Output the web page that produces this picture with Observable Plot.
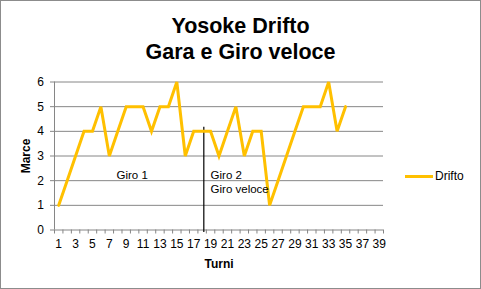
<!DOCTYPE html>
<html>
<head>
<meta charset="utf-8">
<script src="https://cdn.jsdelivr.net/npm/d3@7"></script>
<script src="https://cdn.jsdelivr.net/npm/@observablehq/plot@0.6"></script>
<style>
  body { margin: 0; background: #fff; }
  #chart { position: relative; width: 481px; height: 289px; font-family: "Liberation Sans", Arial, sans-serif; }
  #chart svg { position: absolute; left: 0; top: 0; }
  #border { position: absolute; left: 0; top: 0; width: 479px; height: 287px; border: 1px solid #8c8c8c; pointer-events: none; }
  #title { position: absolute; left: 0; top: 14px; width: 481px; text-align: center; font-weight: bold; font-size: 21.5px; line-height: 25.8px; color: #000; }
  #legend { position: absolute; left: 405px; top: 169px; display: flex; align-items: center; font-size: 12px; color: #000; }
  #legend .swatch { width: 28px; height: 3px; background: #FFC000; margin-right: 2px; }
</style>
</head>
<body>
<div id="chart">
  <div id="title">Yosoke Drifto<br>Gara e Giro veloce</div>
  <div id="legend"><span class="swatch"></span><span id="legend-label"></span></div>
  <div id="border"></div>
</div>
<script>
// Series: gear used on each turn
const seriesName = "Drifto";
const turns = d3.range(1, 36);
const gears = [1, 2, 3, 4, 4, 5, 3, 4, 5, 5, 5, 4, 5, 5, 6, 3, 4, 4, 4, 3,
               4, 5, 3, 4, 4, 1, 2, 3, 4, 5, 5, 5, 6, 4, 5];

// Axis ticks
const xLabelTicks = d3.range(1, 40, 2);          // 1, 3, ..., 39
const xTickMarks = d3.range(0.5, 40, 1);          // boundaries between turns
const yTicks = [0, 1, 2, 3, 4, 5, 6];

// Lap boundary marker and lap notes
const lapBoundary = [{turn: 18.2, top: 4.17}];
const noteTurns = [7.85, 19];
const noteGears = [2.5, 2.5];
const noteTexts = ["Giro 1", "Giro 2\nGiro veloce"];

const data = turns.map((t, i) => ({turn: t, gear: gears[i]}));
const notes = noteTexts.map((text, i) => ({turn: noteTurns[i], gear: noteGears[i], text}));

const grey = "#868686";
const gold = "#FFC000";

const chart = Plot.plot({
  width: 481,
  height: 289,
  marginLeft: 54,
  marginRight: 98,
  marginTop: 81.5,
  marginBottom: 59.5,
  style: {fontFamily: "'Liberation Sans', Arial, sans-serif", fontSize: "12px", background: "transparent", color: "#000"},
  x: {domain: [0.5, 39.5]},
  y: {domain: [0, 6]},
  marks: [
    Plot.gridY(yTicks, {stroke: grey, strokeOpacity: 1}),
    Plot.ruleX([0.5], {stroke: grey}),
    Plot.axisY({ticks: yTicks, tickSize: 4, tickPadding: 6.5, tickFormat: d3.format("d"), stroke: grey, fill: "#000", label: null}),
    Plot.axisX({ticks: xTickMarks, tickSize: 4, tickFormat: () => "", stroke: grey, label: null}),
    Plot.axisX({ticks: xLabelTicks, tickSize: 0, tickPadding: 9.3, tickFormat: d3.format("d"), fill: "#000", label: null}),
    Plot.ruleX(lapBoundary, {x: "turn", y1: -0.1, y2: "top", stroke: "#000", strokeWidth: 1.2, clip: false}),
    Plot.line(data, {x: "turn", y: "gear", stroke: gold, strokeWidth: 3, strokeLinejoin: "miter", strokeMiterlimit: 4}),
    Plot.text(notes, {x: "turn", y: "gear", text: "text", textAnchor: "start", lineAnchor: "top", lineHeight: 1.25, fontSize: 11.5, fill: "#000"}),
    Plot.text(["Turni"], {frameAnchor: "bottom", textAnchor: "middle", lineAnchor: "middle", dy: 34, fontWeight: "bold", fontSize: 12}),
    Plot.text(["Marce"], {frameAnchor: "left", textAnchor: "middle", lineAnchor: "middle", dx: -28.5, rotate: -90, fontWeight: "bold", fontSize: 12})
  ]
});

document.getElementById("chart").prepend(chart);
document.getElementById("legend-label").textContent = seriesName;
</script>
</body>
</html>
